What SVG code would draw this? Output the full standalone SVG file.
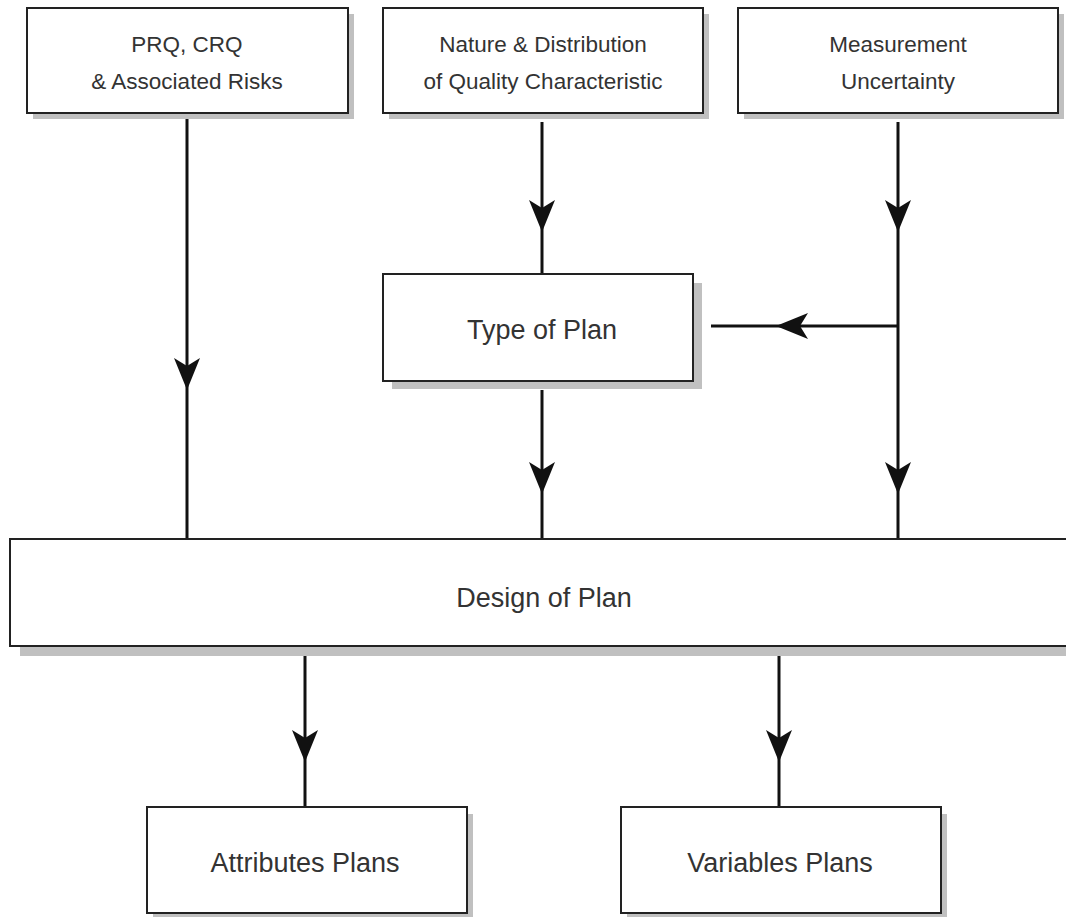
<svg xmlns="http://www.w3.org/2000/svg" width="1066" height="917" viewBox="0 0 1066 917">
<defs>
<style>
.shadow{fill:#c0c0c0}
.box{fill:#fff;stroke:#222;stroke-width:2}
.t{font-family:"Liberation Sans",Arial,sans-serif;fill:#333;text-anchor:middle}
.s{font-size:22.5px}
.l{font-size:27px}
.c{stroke:#111;stroke-width:3;fill:none}
</style>
<path id="ah" d="M0,0 L-13,-32 L0,-24 L13,-32 Z" fill="#111"/>
</defs>
<rect width="1066" height="917" fill="#fff"/>
<g id="connectors">
<line class="c" x1="187" y1="119" x2="187" y2="539"/>
<use href="#ah" transform="translate(187,390)"/>
<line class="c" x1="542" y1="122" x2="542" y2="274"/>
<use href="#ah" transform="translate(542,232)"/>
<line class="c" x1="898" y1="122" x2="898" y2="539"/>
<use href="#ah" transform="translate(898,232)"/>
<use href="#ah" transform="translate(898,494)"/>
<line class="c" x1="898" y1="326" x2="711" y2="326"/>
<use href="#ah" transform="translate(776,326) rotate(90)"/>
<line class="c" x1="542" y1="390" x2="542" y2="539"/>
<use href="#ah" transform="translate(542,494)"/>
<line class="c" x1="305" y1="656" x2="305" y2="807"/>
<use href="#ah" transform="translate(305,762)"/>
<line class="c" x1="779" y1="656" x2="779" y2="807"/>
<use href="#ah" transform="translate(779,762)"/>
</g>
<g id="n1">
<rect class="shadow" x="33" y="14" width="321" height="105"/>
<rect class="box" x="27" y="8" width="321" height="105"/>
<text class="t s" x="187" y="52">PRQ, CRQ</text>
<text class="t s" x="187" y="89">&amp; Associated Risks</text>
</g>
<g id="n2">
<rect class="shadow" x="389" y="14" width="320" height="105"/>
<rect class="box" x="383" y="8" width="320" height="105"/>
<text class="t s" x="543" y="52">Nature &amp; Distribution</text>
<text class="t s" x="543" y="89">of Quality Characteristic</text>
</g>
<g id="n3">
<rect class="shadow" x="744" y="14" width="320" height="105"/>
<rect class="box" x="738" y="8" width="320" height="105"/>
<text class="t s" x="898" y="52">Measurement</text>
<text class="t s" x="898" y="89">Uncertainty</text>
</g>
<g id="n4">
<rect class="shadow" x="392" y="283" width="310" height="106"/>
<rect class="box" x="383" y="274" width="310" height="107"/>
<text class="t l" x="542" y="339">Type of Plan</text>
</g>
<g id="n5">
<rect class="shadow" x="20" y="548" width="1080" height="108"/>
<rect class="box" x="10" y="539" width="1070" height="107"/>
<text class="t l" x="544" y="607">Design of Plan</text>
</g>
<g id="n6">
<rect class="shadow" x="153" y="814" width="320" height="106"/>
<rect class="box" x="147" y="807" width="320" height="106"/>
<text class="t l" x="305" y="872">Attributes Plans</text>
</g>
<g id="n7">
<rect class="shadow" x="627" y="814" width="320" height="106"/>
<rect class="box" x="621" y="807" width="320" height="106"/>
<text class="t l" x="780" y="872">Variables Plans</text>
</g>
</svg>
